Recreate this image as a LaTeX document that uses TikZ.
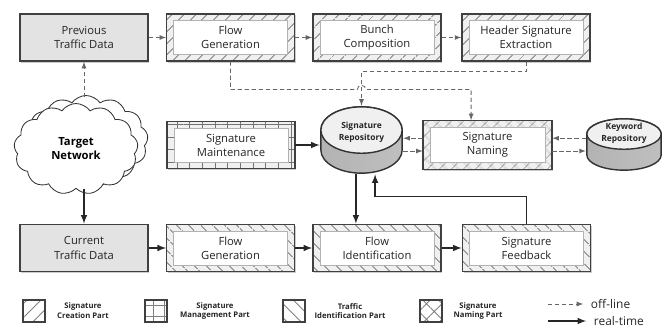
\documentclass[tikz,border=0pt]{standalone}
\usepackage{fontspec}
\setmainfont{Open Sans}
\usetikzlibrary{patterns.meta, shadows, shapes.symbols}

% part frames: hatched band round a white inner area
\tikzset{
  base/.style={rectangle, draw=black!75, line width=1.1pt, minimum width=3.2cm, minimum height=1.18cm,
    align=center, font=\fontsize{8}{10}\selectfont, text=black!85,
    drop shadow={shadow xshift=1pt, shadow yshift=-1pt, fill=black!40, opacity=0.5}},
  datanode/.style={base, fill=gray!22},
  band/.style={base, preaction={fill=gray!12}, pattern color=black!55,
    path picture={\filldraw[fill=white, draw=gray!60, line width=0.4pt]
      ([shift={(0.17cm,-0.17cm)}]path picture bounding box.north west) rectangle
      ([shift={(-0.17cm,0.17cm)}]path picture bounding box.south east);}},
  creatpart/.style={band, pattern={Lines[angle=45, distance=6.5pt, line width=0.6pt]}},
  managepart/.style={band, pattern={Hatch[angle=0, distance=9pt, line width=0.5pt]}},
  identpart/.style={band, pattern={Lines[angle=-45, distance=6.5pt, line width=0.6pt]}},
  namepart/.style={band, pattern={Hatch[angle=45, distance=6.5pt, line width=0.5pt]}},
  % storage drum: width, height, radius of the end ellipse
  repo/.style n args={3}{rectangle, minimum width=#1, minimum height=#2, inner sep=0pt, align=center,
    font=\fontsize{6}{8.5}\selectfont\bfseries, text=black!85,
    path picture={
      \shade[left color=gray!60, middle color=white, right color=gray!50, draw=black!80, line width=1pt]
        ([shift={(0.6pt,-#3-0.6pt)}]path picture bounding box.north west)
        -- ([shift={(0.6pt,#3+0.6pt)}]path picture bounding box.south west)
        arc[start angle=180, end angle=360, x radius={#1/2-0.6pt}, y radius=#3]
        -- ([shift={(-0.6pt,-#3-0.6pt)}]path picture bounding box.north east)
        arc[start angle=0, end angle=180, x radius={#1/2-0.6pt}, y radius=#3] -- cycle;
      \filldraw[fill=gray!12, draw=black!80, line width=1pt]
        ([yshift=-#3-0.6pt]path picture bounding box.north) ellipse[x radius={#1/2-0.6pt}, y radius=#3];}},
  legbox/.style={rectangle, draw=black!75, line width=1pt, minimum size=0.55cm, inner sep=0pt, pattern color=black!50},
  legtext/.style={align=center, font=\fontsize{5.5}{7}\selectfont\bfseries, text=black!85},
  offline/.style={-latex, densely dashed, black!60, line width=0.6pt},
  realtime/.style={-latex, black!85, line width=1.1pt}
}

\begin{document}
\begin{tikzpicture}[x=0.025cm, y=-0.025cm]
\useasboundingbox (0,0) rectangle (669,327);

% top row: off-line signature creation
\node[datanode] (prevdata) at (84,37.5) {Previous\\Traffic Data};
\node[creatpart] (flowgen) at (230.5,37.5) {Flow\\Generation};
\node[creatpart] (bunch) at (377,37.5) {Bunch\\Composition};
\node[creatpart] (header) at (526,37.5) {Header Signature\\Extraction};

% middle row
\node[cloud, cloud puffs=13, cloud puff arc=110, draw=black!80, fill=white, line width=0.6pt,
  minimum width=3.1cm, minimum height=1.85cm, font=\fontsize{8}{10}\selectfont\bfseries, align=center,
  copy shadow={shadow xshift=0.25cm, shadow yshift=0.2cm, fill=white, draw=black!80, line width=0.6pt}]
  (target) at (76,149) {Target\\Network};
\node[managepart] (maint) at (231,145) {Signature\\Maintenance};
\node[repo={2.075cm}{1.7cm}{0.58cm}, text depth=12.5pt] (sigrepo) at (361.5,140) {Signature\\Repository};
\node[namepart, minimum width=3.225cm, minimum height=1.225cm] (signaming) at (487.5,145) {Signature\\Naming};
\node[repo={1.9cm}{1.325cm}{0.38cm}, text depth=18pt] (keyrepo) at (624,144.5) {Keyword\\Repository};

% bottom row: real-time identification
\node[datanode] (curdata) at (84,248) {Current\\Traffic Data};
\node[identpart] (flowgen2) at (230.5,248) {Flow\\Generation};
\node[identpart] (flowid) at (377,248) {Flow\\Identification};
\node[identpart] (feedback) at (526.5,248) {Signature\\Feedback};

% off-line paths
\draw[offline] ([yshift=0.15cm]target.north -| prevdata.south) -- (prevdata.south);
\draw[offline] (prevdata) -- (flowgen);
\draw[offline] (flowgen) -- (bunch);
\draw[offline] (bunch) -- (header);
\draw[offline] (header.south) -- ++(0,10) -| (sigrepo.north);
\draw[offline] (flowgen.south) -- ++(0,28) coordinate (fgturn)
  -- ([xshift=-3pt]fgturn -| sigrepo.north) arc[start angle=180, end angle=0, radius=3pt]
  -| ([xshift=-0.41cm]signaming.north);
\draw[offline] ([yshift=0.17cm]signaming.west) -- ([yshift=0.17cm]signaming.west -| sigrepo.east);
\draw[offline] ([yshift=-0.15cm]signaming.west -| sigrepo.east) -- ([yshift=-0.15cm]signaming.west);
\draw[offline] ([yshift=0.17cm]signaming.east -| keyrepo.west) -- ([yshift=0.17cm]signaming.east);
\draw[offline] ([yshift=-0.15cm]signaming.east) -- ([yshift=-0.15cm]signaming.east -| keyrepo.west);

% real-time paths
\draw[realtime] (target.south -| curdata.north) -- (curdata.north);
\draw[realtime] (maint.east) -- (maint.east -| sigrepo.west);
\draw[realtime] (curdata) -- (flowgen2);
\draw[realtime] (flowgen2) -- (flowid);
\draw[realtime] (flowid) -- (feedback);
\draw[realtime] ([xshift=-0.14cm]sigrepo.south) -- ([xshift=-0.14cm]sigrepo.south |- flowid.north);
\draw[realtime] (feedback.north) -- ++(0,-27) -| ([xshift=0.34cm]sigrepo.south);

% legend
\node[legbox, pattern={Lines[angle=45, distance=7pt, line width=0.6pt]}] (legcreat) at (34,311) {};
\node[legtext] (txtcreat) at (83,311) {Signature\\Creation Part};
\node[legbox, pattern={Hatch[angle=0, distance=7.8pt, line width=0.6pt]}] (legmanage) at (156,311) {};
\node[legtext] (txtmanage) at (215,311) {Signature\\Management Part};
\node[legbox, pattern={Lines[angle=-45, distance=7pt, line width=0.6pt]}] (legident) at (294,311) {};
\node[legtext] (txtident) at (350,311) {Traffic\\Identification Part};
\node[legbox, pattern={Hatch[angle=45, distance=7.8pt, line width=0.6pt]}] (legname) at (431,311) {};
\node[legtext] (txtname) at (478,311) {Signature\\Naming Part};

\coordinate (offstart) at (548,304);
\coordinate (realstart) at (548,321);
\node[anchor=west, font=\fontsize{8.5}{10}\selectfont, text=black!85] (offtxt) at (586,304) {off-line};
\node[anchor=west, font=\fontsize{8.5}{10}\selectfont, text=black!85] (realtxt) at (589,321) {real-time};
\draw[offline, shorten >=2pt] (offstart) -- (offtxt.west);
\draw[realtime, shorten >=2pt] (realstart) -- (realstart -| realtxt.west);
\end{tikzpicture}
\end{document}
